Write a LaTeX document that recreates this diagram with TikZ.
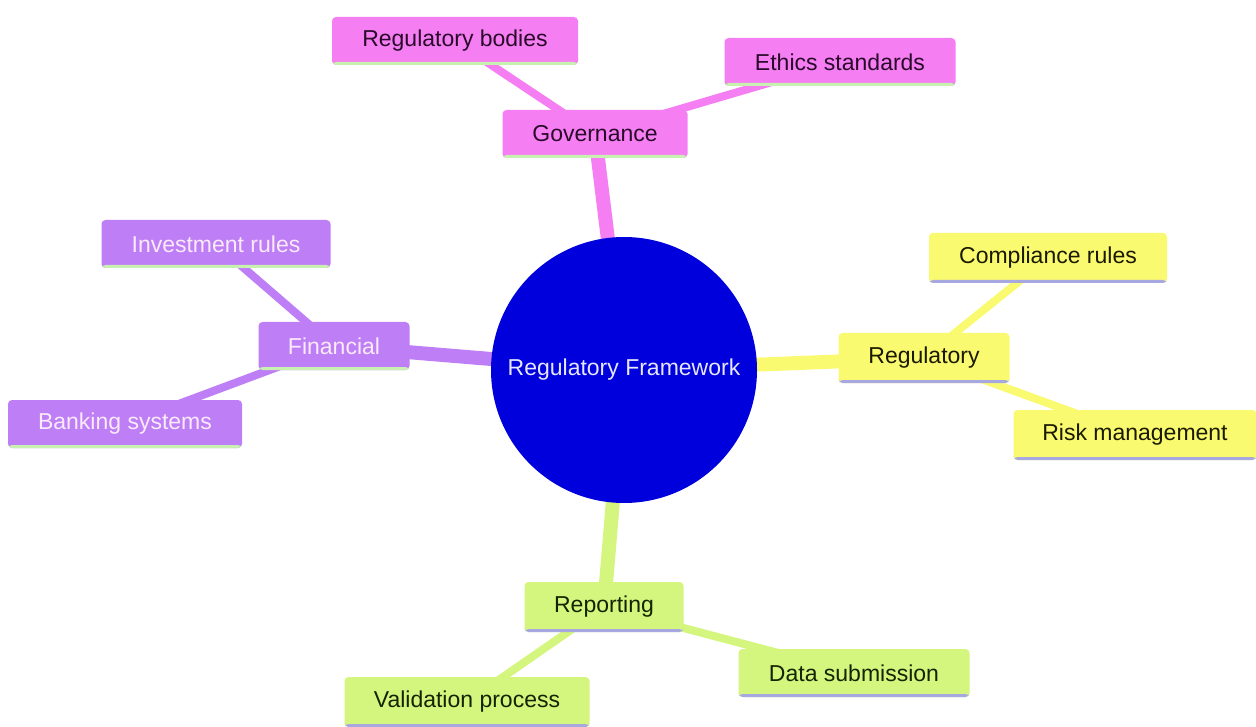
\documentclass[tikz,border=0pt]{standalone}
\usepackage{fontspec}
\setmainfont{Liberation Sans}
\pgfdeclarelayer{bg}
\pgfsetlayers{bg,main}
\definecolor{magF}{HTML}{F47EF2}
\definecolor{magT}{HTML}{2A0A2A}
\definecolor{purF}{HTML}{BE7EF6}
\definecolor{purT}{HTML}{FAEAFA}
\definecolor{yelF}{HTML}{FAFA70}
\definecolor{yelT}{HTML}{1A1A00}
\definecolor{grnF}{HTML}{D4F57E}
\definecolor{grnT}{HTML}{142400}
\definecolor{greenline}{HTML}{C8F0B0}
\definecolor{lavline}{HTML}{A8A8E0}
\definecolor{rootF}{HTML}{0000DC}
\definecolor{rootT}{HTML}{E6E6FF}
\begin{document}
\begin{tikzpicture}[x=1pt,y=-1pt,
  box/.style={rounded corners=4pt, minimum height=48pt, inner sep=0pt,
    font=\fontsize{23}{27}\selectfont},
  mag/.style={box, fill=magF, text=magT, path picture={\fill[greenline] ([yshift=3pt]path picture bounding box.south west) rectangle (path picture bounding box.south east);}},
  pur/.style={box, fill=purF, text=purT, path picture={\fill[greenline] ([yshift=3pt]path picture bounding box.south west) rectangle (path picture bounding box.south east);}},
  yel/.style={box, fill=yelF, text=yelT, path picture={\fill[lavline] ([yshift=3pt]path picture bounding box.south west) rectangle (path picture bounding box.south east);}},
  grn/.style={box, fill=grnF, text=grnT, path picture={\fill[lavline] ([yshift=3pt]path picture bounding box.south west) rectangle (path picture bounding box.south east);}},
  thick1/.style={line width=14pt},
  thick2/.style={line width=8pt}]
\useasboundingbox (0,0) rectangle (1256,727);

\node[circle, fill=rootF, text=rootT, minimum size=266pt, inner sep=0pt,
  font=\fontsize{23}{27}\selectfont] (root) at (624,370) {Regulatory Framework};

\node[mag, minimum width=246pt] (bodies) at (455,41) {Regulatory bodies};
\node[mag, minimum width=231pt] (ethics) at (840,62) {Ethics standards};
\node[mag, minimum width=185pt] (gov) at (595,134) {Governance};

\node[pur, minimum width=229pt] (invest) at (216,244) {Investment rules};
\node[pur, minimum width=151pt] (fin) at (334,346) {Financial};
\node[pur, minimum width=234pt] (bank) at (125,424) {Banking systems};

\node[yel, minimum width=238pt, minimum height=50pt] (comp) at (1048,258) {Compliance rules};
\node[yel, minimum width=171pt, minimum height=50pt] (reg) at (924,358) {Regulatory};
\node[yel, minimum width=243pt, minimum height=50pt] (risk) at (1135,435) {Risk management};

\node[grn, minimum width=159pt, minimum height=50pt] (rep) at (604,607) {Reporting};
\node[grn, minimum width=231pt] (data) at (854,673) {Data submission};
\node[grn, minimum width=245pt, minimum height=50pt] (valid) at (467,702) {Validation process};

\begin{pgfonlayer}{bg}
\draw[magF, thick1] (root.center) -- (gov.center);
\draw[magF, thick2] (gov.center) -- (bodies.center);
\draw[magF, thick2] (gov.center) -- (ethics.center);
\draw[purF, thick1] (root.center) -- (fin.center);
\draw[purF, thick2] (fin.center) -- (invest.center);
\draw[purF, thick2] (fin.center) -- (bank.center);
\draw[yelF, thick1] (root.center) -- (reg.center);
\draw[yelF, thick2] (reg.center) -- (comp.center);
\draw[yelF, thick2] (reg.center) -- (risk.center);
\draw[grnF, thick1] (root.center) -- (rep.center);
\draw[grnF, thick2] (rep.center) -- (data.center);
\draw[grnF, thick2] (rep.center) -- (valid.center);
\end{pgfonlayer}
\end{tikzpicture}
\end{document}
